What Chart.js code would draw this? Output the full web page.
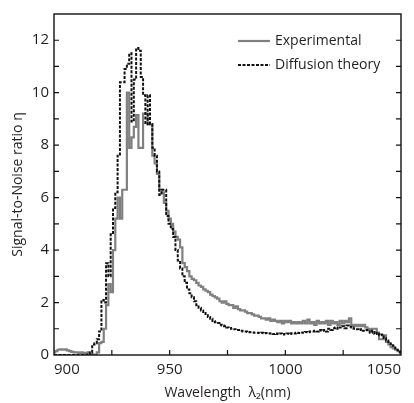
<!DOCTYPE html>
<html>
<head>
<meta charset="utf-8">
<script src="https://cdn.jsdelivr.net/npm/chart.js@4.4.0/dist/chart.umd.min.js"></script>
<style>
  html, body { margin: 0; padding: 0; background: #fff; }
  #wrap { width: 414px; height: 403px; }
</style>
</head>
<body>
<div id="wrap"><canvas id="snrChart" width="414" height="403"></canvas></div>
<script>
// 파장 (nm)
const wavelength = [
  900, 901, 902, 903, 904, 905, 906, 907, 908, 909,
  910, 911, 912, 913, 914, 915, 916, 917, 918, 919,
  920, 921, 922, 923, 924, 925, 926, 927, 928, 929,
  930, 931, 932, 933, 934, 935, 936, 937, 938, 939,
  940, 941, 942, 943, 944, 945, 946, 947, 948, 949,
  950, 951, 952, 953, 954, 955, 956, 957, 958, 959,
  960, 961, 962, 963, 964, 965, 966, 967, 968, 969,
  970, 971, 972, 973, 974, 975, 976, 977, 978, 979,
  980, 981, 982, 983, 984, 985, 986, 987, 988, 989,
  990, 991, 992, 993, 994, 995, 996, 997, 998, 999,
  1000, 1001, 1002, 1003, 1004, 1005, 1006, 1007, 1008, 1009,
  1010, 1011, 1012, 1013, 1014, 1015, 1016, 1017, 1018, 1019,
  1020, 1021, 1022, 1023, 1024, 1025, 1026, 1027, 1028, 1029,
  1030, 1031, 1032, 1033, 1034, 1035, 1036, 1037, 1038, 1039,
  1040, 1041, 1042, 1043, 1044, 1045, 1046, 1047, 1048, 1049,
  1050
];

// 실험값
const experimental = [
  0.10, 0.15, 0.20, 0.22, 0.20, 0.22, 0.18, 0.15, 0.12, 0.10,
  0.10, 0.08, 0.10, 0.06, 0.08, 0.10, 0.05, 0.02, 0.02, 0.10,
  0.45, 0.50, 1.00, 1.90, 2.70, 2.40, 4.00, 5.20, 6.00, 5.20,
  6.30, 6.30, 10.0, 7.90, 8.30, 8.70, 9.15, 7.90, 7.90, 9.20,
  9.20, 8.80, 8.80, 7.60, 7.30, 6.90, 6.30, 6.20, 5.80, 5.50,
  5.20, 5.00, 4.70, 4.50, 4.40, 4.10, 3.50, 3.35, 3.20, 3.00,
  2.90, 2.85, 2.75, 2.65, 2.60, 2.50, 2.45, 2.40, 2.30, 2.25,
  2.20, 2.15, 2.05, 2.00, 2.05, 1.95, 1.90, 1.90, 1.80, 1.85,
  1.75, 1.70, 1.70, 1.65, 1.60, 1.60, 1.55, 1.50, 1.50, 1.45,
  1.40, 1.40, 1.35, 1.40, 1.30, 1.35, 1.30, 1.25, 1.30, 1.20,
  1.30, 1.25, 1.30, 1.20, 1.25, 1.20, 1.25, 1.20, 1.30, 1.20,
  1.35, 1.20, 1.25, 1.15, 1.30, 1.20, 1.25, 1.20, 1.30, 1.15,
  1.30, 1.20, 1.25, 1.15, 1.30, 1.20, 1.30, 1.25, 1.40, 1.10,
  1.15, 1.10, 1.15, 1.10, 1.15, 1.05, 1.00, 0.95, 1.00, 1.00,
  0.85, 0.60, 0.60, 0.75, 0.50, 0.40, 0.30, 0.25, 0.20, 0.15,
  0.10
];

// 확산 이론값
const diffusion = [
  0.00, 0.00, 0.00, 0.00, 0.00, 0.00, 0.00, 0.00, 0.00, 0.00,
  0.00, 0.00, 0.00, 0.00, 0.00, 0.02, 0.10, 0.40, 0.45, 0.60,
  0.90, 2.10, 2.00, 3.50, 3.00, 4.60, 5.60, 6.20, 7.60, 10.4,
  10.4, 10.9, 11.1, 11.5, 8.90, 10.5, 11.7, 11.6, 10.6, 9.90,
  8.80, 9.90, 8.80, 7.90, 7.60, 7.00, 6.10, 6.30, 6.30, 5.30,
  5.00, 4.80, 4.50, 4.00, 3.60, 3.30, 3.00, 2.75, 2.50, 2.35,
  2.20, 2.05, 1.90, 1.80, 1.70, 1.60, 1.52, 1.45, 1.38, 1.30,
  1.25, 1.22, 1.15, 1.12, 1.10, 1.05, 1.03, 1.00, 0.98, 0.95,
  0.95, 0.92, 0.90, 0.90, 0.88, 0.87, 0.86, 0.85, 0.85, 0.84,
  0.85, 0.83, 0.84, 0.82, 0.83, 0.80, 0.82, 0.80, 0.82, 0.78,
  0.80, 0.82, 0.80, 0.83, 0.82, 0.85, 0.84, 0.86, 0.85, 0.88,
  0.87, 0.90, 0.90, 0.92, 0.90, 0.95, 0.92, 0.95, 0.90, 1.00,
  0.95, 1.02, 1.05, 1.00, 1.05, 1.10, 1.02, 1.12, 1.08, 1.05,
  1.00, 0.98, 0.95, 0.98, 0.92, 0.95, 0.90, 0.85, 0.92, 0.80,
  0.85, 0.75, 0.78, 0.65, 0.55, 0.50, 0.42, 0.35, 0.25, 0.18,
  0.10
];

// 축 눈금
const xTicks = [900, 950, 1000, 1050];
const xMinorTicks = [925, 950, 975, 1000, 1025];
const yTicks = [0, 2, 4, 6, 8, 10, 12];
const yMinorTicks = [1, 2, 3, 4, 5, 6, 7, 8, 9, 10, 11, 12];

const FONT = "'Open Sans', 'DejaVu Sans', sans-serif";
const TEXT_COLOR = "#231f20";

// 테두리 + 안쪽 눈금
const framePlugin = {
  id: "frame",
  afterDatasetsDraw(chart) {
    const { ctx, chartArea: a, scales } = chart;
    ctx.save();
    ctx.strokeStyle = "#111";
    ctx.lineWidth = 1.4;
    ctx.strokeRect(a.left, a.top, a.right - a.left, a.bottom - a.top);
    ctx.lineWidth = 1.2;
    ctx.beginPath();
    xMinorTicks.forEach(v => {
      const px = scales.x.getPixelForValue(v);
      ctx.moveTo(px, a.bottom);
      ctx.lineTo(px, a.bottom - 5);
    });
    yMinorTicks.forEach(v => {
      const py = scales.y.getPixelForValue(v);
      ctx.moveTo(a.left, py);
      ctx.lineTo(a.left + 5, py);
      ctx.moveTo(a.right, py);
      ctx.lineTo(a.right - 5, py);
    });
    ctx.stroke();
    ctx.restore();
  }
};

// 그래프 안 범례
const legendPlugin = {
  id: "innerLegend",
  afterDraw(chart) {
    const { ctx } = chart;
    ctx.save();
    ctx.font = "14px " + FONT;
    ctx.fillStyle = TEXT_COLOR;
    ctx.textBaseline = "middle";
    const rows = [41, 65];
    chart.data.datasets.forEach((ds, i) => {
      const y = rows[i];
      ctx.strokeStyle = ds.borderColor;
      ctx.lineWidth = ds.borderWidth;
      ctx.setLineDash(ds.borderDash || []);
      ctx.beginPath();
      ctx.moveTo(238, y);
      ctx.lineTo(270, y);
      ctx.stroke();
      ctx.setLineDash([]);
      ctx.fillText(ds.label, 275, y);
    });
    ctx.restore();
  }
};

const ctx = document.getElementById("snrChart").getContext("2d");
new Chart(ctx, {
  type: "line",
  data: {
    datasets: [
      {
        label: "Experimental",
        data: wavelength.map((w, i) => ({ x: w, y: experimental[i] })),
        borderColor: "#808080",
        borderWidth: 2.2,
        stepped: "middle",
        pointRadius: 0,
        fill: false,
        order: 2
      },
      {
        label: "Diffusion theory",
        data: wavelength.map((w, i) => ({ x: w, y: diffusion[i] })),
        borderColor: "#111111",
        borderWidth: 2,
        borderDash: [3, 1.5],
        stepped: "middle",
        pointRadius: 0,
        fill: false,
        order: 1
      }
    ]
  },
  options: {
    responsive: false,
    animation: false,
    layout: { padding: { left: 0, top: 14, right: 13, bottom: 0 } },
    plugins: {
      legend: { display: false },
      tooltip: { enabled: false }
    },
    scales: {
      x: {
        type: "linear",
        min: 900,
        max: 1050,
        afterBuildTicks: (scale) => { scale.ticks = xTicks.map(v => ({ value: v })); },
        afterFit: (scale) => { scale.height = 48; },
        grid: { display: false, drawTicks: false },
        border: { display: false },
        ticks: {
          align: "inner",
          padding: 6,
          color: TEXT_COLOR,
          font: { family: FONT, size: 15 },
          callback: (v) => String(v)
        },
        title: {
          display: true,
          text: "Wavelength  λ₂(nm)",
          color: TEXT_COLOR,
          font: { family: FONT, size: 14 },
          padding: { top: 0, bottom: 2 }
        }
      },
      y: {
        type: "linear",
        min: 0,
        max: 13,
        afterBuildTicks: (scale) => { scale.ticks = yTicks.map(v => ({ value: v })); },
        afterFit: (scale) => { scale.width = 54; },
        grid: { display: false, drawTicks: false },
        border: { display: false },
        ticks: {
          padding: 5,
          color: TEXT_COLOR,
          font: { family: FONT, size: 15 },
          callback: (v) => String(v)
        },
        title: {
          display: true,
          text: "Signal-to-Noise ratio η",
          color: TEXT_COLOR,
          font: { family: FONT, size: 14 },
          padding: { top: 10, bottom: 0 }
        }
      }
    }
  },
  plugins: [framePlugin, legendPlugin]
});
</script>
</body>
</html>
